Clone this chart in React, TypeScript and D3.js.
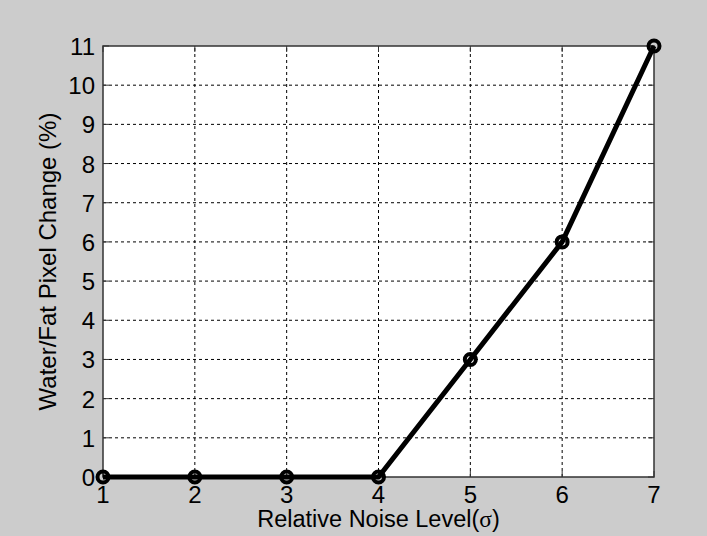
import React from "react";
import * as d3 from "d3";

const xValues = [1, 2, 3, 4, 5, 6, 7];
const yValues = [0, 0, 0, 0, 3, 6, 11];
const xTicks = [1, 2, 3, 4, 5, 6, 7];
const yTicks = [0, 1, 2, 3, 4, 5, 6, 7, 8, 9, 10, 11];
const xLabel = "Relative Noise Level(";
const yLabel = "Water/Fat Pixel Change (%)";

const W = 707;
const H = 536;
const m = { left: 103, right: 53, top: 46, bottom: 59 };

export default function App() {
  const x = d3.scaleLinear().domain([1, 7]).range([m.left, W - m.right]);
  const y = d3.scaleLinear().domain([0, 11]).range([H - m.bottom, m.top]);
  const line = d3
    .line<number>()
    .x((_, i) => x(xValues[i]))
    .y((d) => y(d));
  const font = "Arial, 'Liberation Sans', sans-serif";
  const x0 = x(1), x1 = x(7), y0 = y(0), y1 = y(11);
  return (
    <svg
      width={W}
      height={H}
      style={{ position: "absolute", left: 0, top: 0, display: "block" }}
    >
      <rect x={0} y={0} width={W} height={H} fill="#cccccc" />
      <rect x={x0} y={y1} width={x1 - x0} height={y0 - y1} fill="#ffffff" />
      {xTicks.map((t) => (
        <g key={"xg" + t}>
          {t > 1 && t < 7 && (
            <line x1={x(t)} x2={x(t)} y1={y0} y2={y1} stroke="#000" strokeWidth={1} strokeDasharray="3,3" />
          )}
          <line x1={x(t)} x2={x(t)} y1={y0} y2={y0 - 6} stroke="#333" strokeWidth={1} />
          <line x1={x(t)} x2={x(t)} y1={y1} y2={y1 + 6} stroke="#333" strokeWidth={1} />
          <text x={x(t)} y={y0 + 26} textAnchor="middle" fontFamily={font} fontSize={24} fill="#000">
            {t}
          </text>
        </g>
      ))}
      {yTicks.map((t) => (
        <g key={"yg" + t}>
          {t > 0 && t < 11 && (
            <line x1={x0} x2={x1} y1={y(t)} y2={y(t)} stroke="#000" strokeWidth={1} strokeDasharray="3,3" />
          )}
          <line x1={x0} x2={x0 + 6} y1={y(t)} y2={y(t)} stroke="#333" strokeWidth={1} />
          <line x1={x1} x2={x1 - 6} y1={y(t)} y2={y(t)} stroke="#333" strokeWidth={1} />
          <text x={x0 - 8} y={y(t) + 9} textAnchor="end" fontFamily={font} fontSize={24} fill="#000">
            {t}
          </text>
        </g>
      ))}
      <rect x={x0} y={y1} width={x1 - x0} height={y0 - y1} fill="none" stroke="#333" strokeWidth={1.5} />
      <path d={line(yValues) || ""} fill="none" stroke="#000" strokeWidth={5} strokeLinejoin="round" />
      {yValues.map((v, i) => (
        <circle key={"p" + i} cx={x(xValues[i])} cy={y(v)} r={5.5} fill="none" stroke="#000" strokeWidth={4} />
      ))}
      <text x={(x0 + x1) / 2} y={527} textAnchor="middle" fontFamily={font} fontSize={23.5} fill="#000">
        {xLabel}
        <tspan fontFamily="'Liberation Serif', 'DejaVu Serif', serif">σ</tspan>
        )
      </text>
      <text
        transform={`translate(56, ${(y0 + y1) / 2}) rotate(-90)`}
        textAnchor="middle"
        fontFamily={font}
        fontSize={24}
        fill="#000"
      >
        {yLabel}
      </text>
    </svg>
  );
}
